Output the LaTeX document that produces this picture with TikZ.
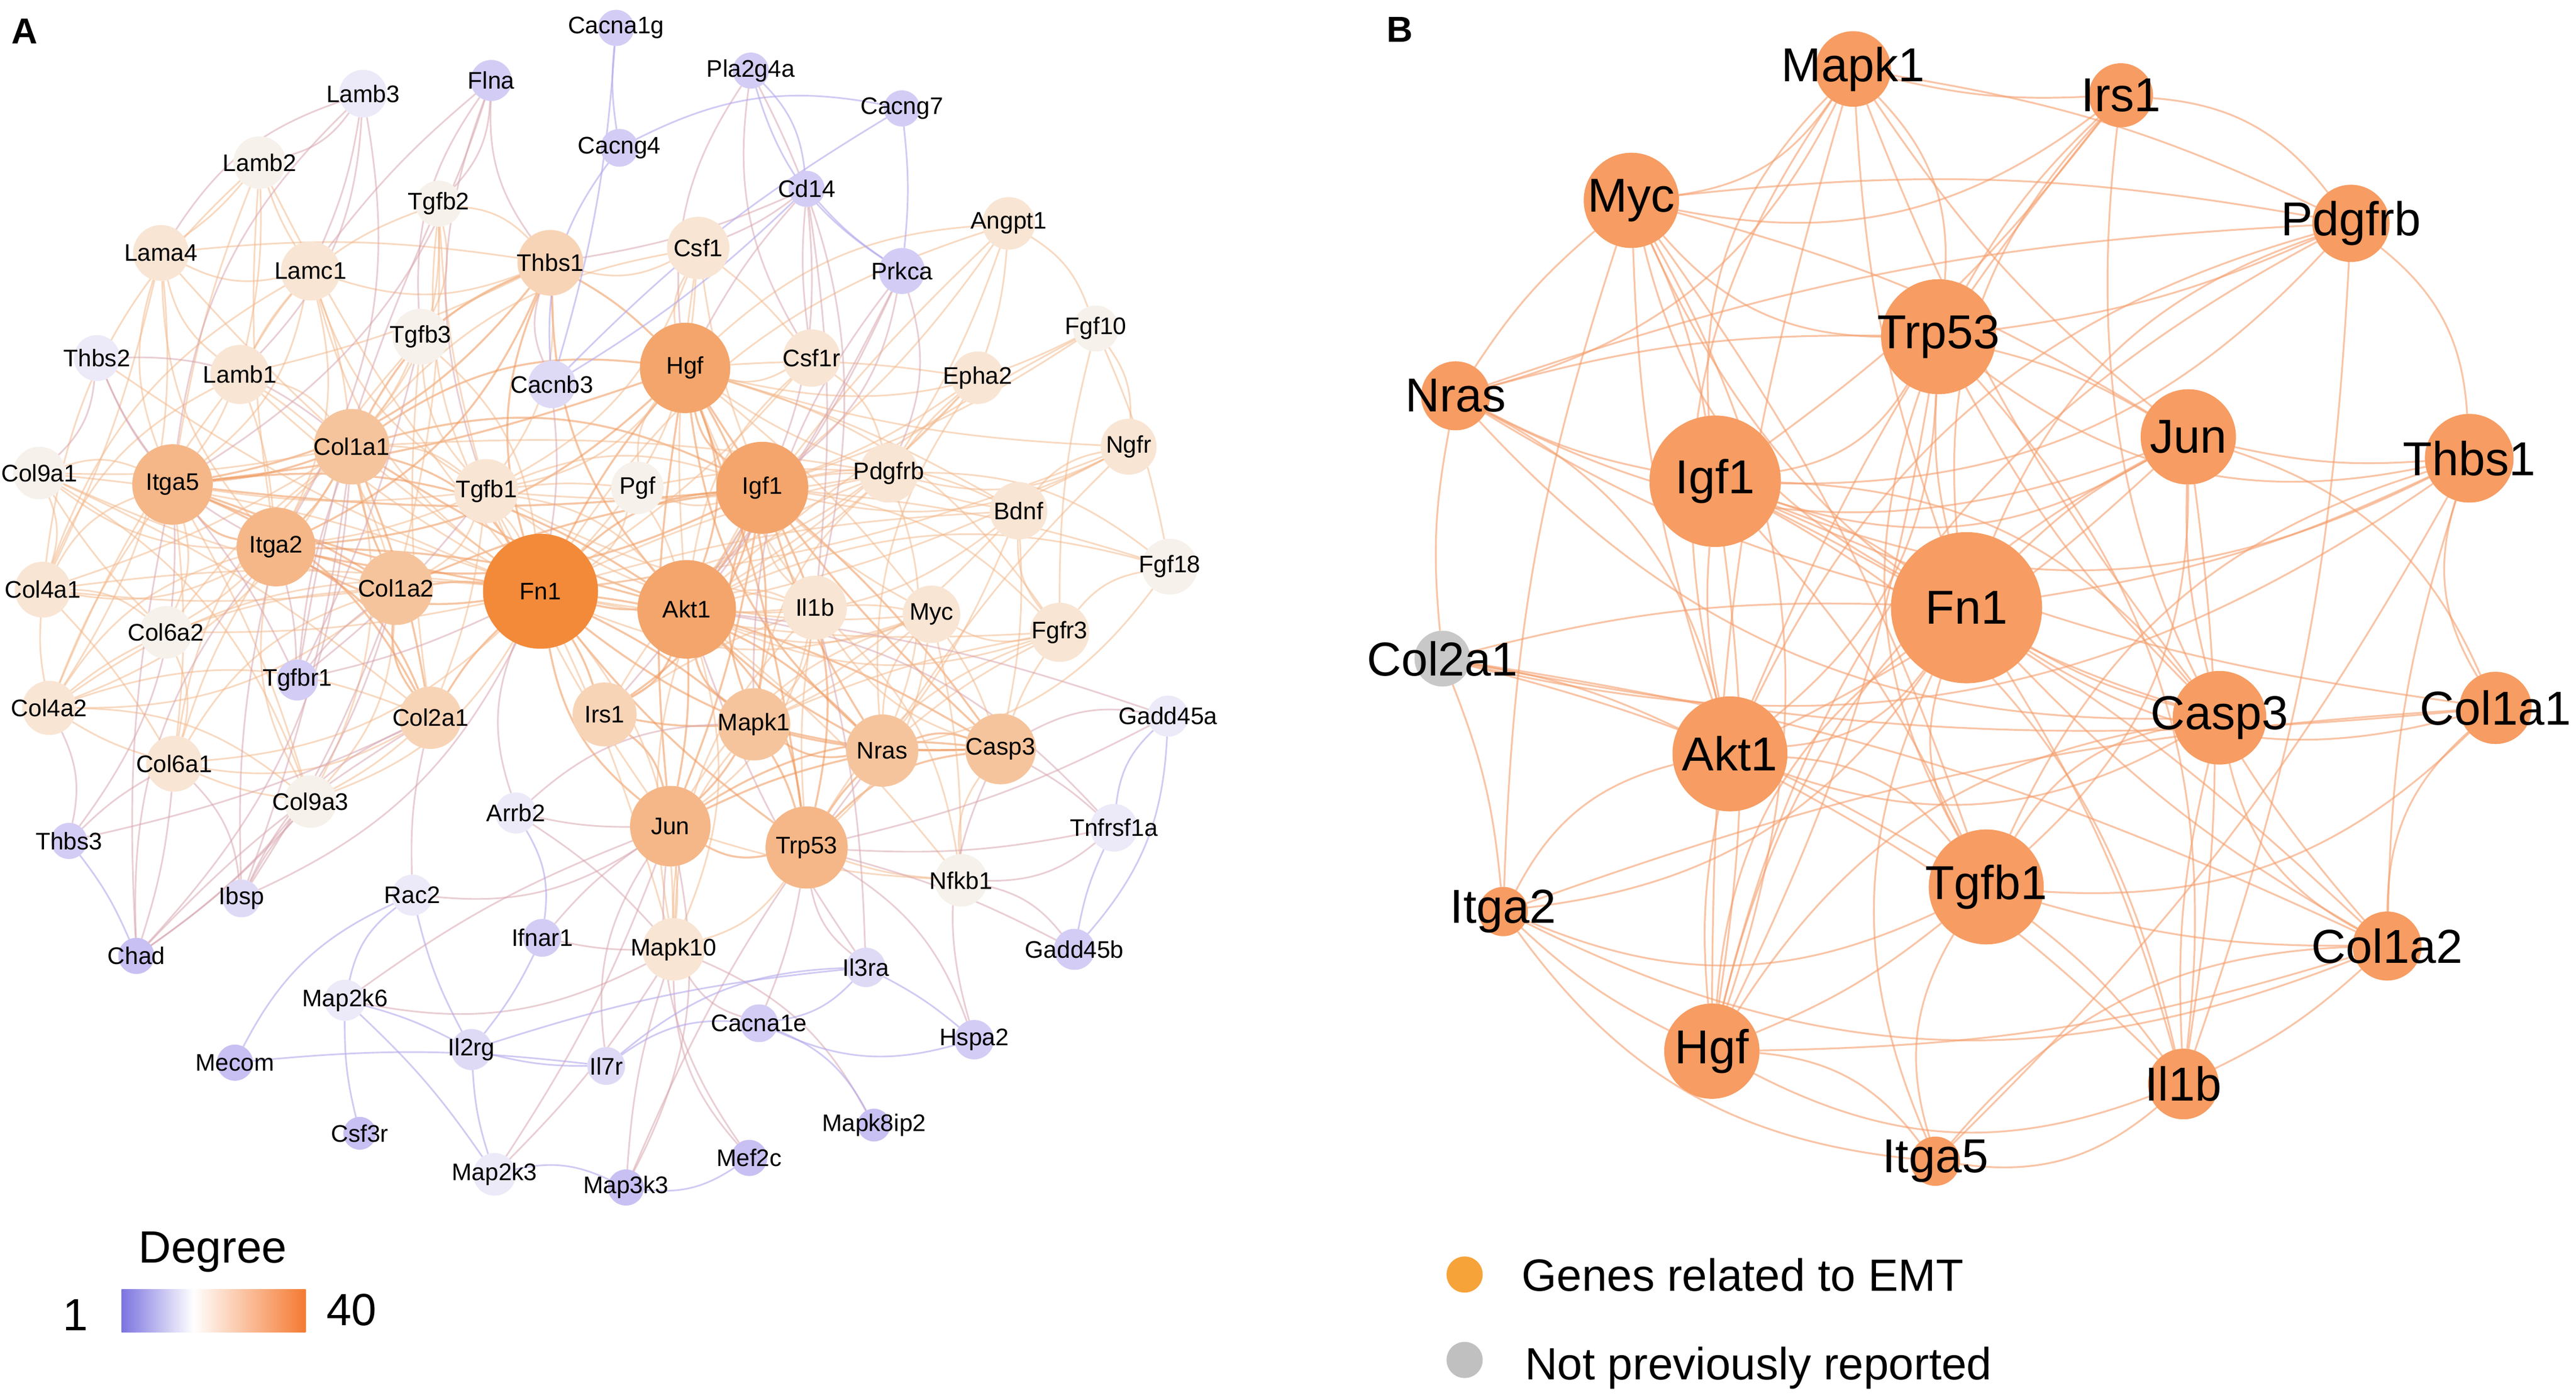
\documentclass[tikz,border=0pt]{standalone}
\usepackage{fontspec}
\setmainfont{Liberation Sans}
\pgfdeclarelayer{bgzero}
\pgfdeclarelayer{edges}
\pgfsetlayers{bgzero,edges,main}
\definecolor{cF}{RGB}{242,138,58}
\definecolor{cOa}{RGB}{243,165,108}
\definecolor{cOb}{RGB}{245,183,136}
\definecolor{cOc}{RGB}{246,196,156}
\definecolor{cOd}{RGB}{248,212,183}
\definecolor{cBg}{RGB}{249,229,212}
\definecolor{cWh}{RGB}{246,241,235}
\definecolor{cVa}{RGB}{236,234,248}
\definecolor{cVb}{RGB}{222,218,246}
\definecolor{cVc}{RGB}{211,205,245}
\definecolor{cVd}{RGB}{200,192,242}
\definecolor{edgeO}{RGB}{240,150,88}
\definecolor{edgeL}{RGB}{243,186,142}
\definecolor{edgeP}{RGB}{178,168,236}
\definecolor{edgeM}{RGB}{216,166,176}
\definecolor{edgeB}{RGB}{245,158,108}
\definecolor{nodeB}{RGB}{247,156,98}
\definecolor{grayB}{RGB}{200,200,200}
\definecolor{legOr}{RGB}{246,163,58}
\definecolor{legGr}{RGB}{192,192,192}
\definecolor{gradP}{RGB}{124,116,224}
\definecolor{gradO}{RGB}{244,122,50}
\tikzset{
  gn/.style={circle,inner sep=0pt,outer sep=0pt,draw=none},
  labA/.style={font=\fontsize{14.6}{16}\selectfont,inner sep=0pt,text=black},
  labB/.style={font=\fontsize{29}{32}\selectfont,inner sep=0pt,text=black},
  eO/.style={draw=edgeO,line width=1.2pt,opacity=.55},
  eL/.style={draw=edgeL,line width=1pt,opacity=.55},
  eM/.style={draw=edgeM,line width=1pt,opacity=.55},
  eP/.style={draw=edgeP,line width=1pt,opacity=.6},
  eB/.style={draw=edgeB,line width=1.1pt,opacity=.6},
  legtxt/.style={font=\fontsize{27.5}{30}\selectfont,inner sep=0pt},
  panel/.style={font=\bfseries\fontsize{22}{24}\selectfont,inner sep=0pt}
}
\newcommand\gA[6]{\node[gn,minimum size=#4pt*2,fill=#5,label={[labA]center:#6}] (#1) at (#2,#3) {};}
\newcommand\gB[5]{\node[gn,minimum size=#4pt*2,fill=#5,label={[labB]center:#1}] (b#1) at (#2,#3) {};}
\begin{document}
\begin{tikzpicture}[x=1pt,y=-1pt]
\begin{pgfonlayer}{bgzero}
\fill[white] (0,0) rectangle (1568,851);
\end{pgfonlayer}
\useasboundingbox (0,0) rectangle (1568,851);
% ---------------- Panel A nodes
\gA{Cacna1g}{375}{17}{11}{cVc}{Cacna1g}
\gA{Lamb3}{221}{57}{14.5}{cVa}{Lamb3}
\gA{Flna}{299}{49}{12.5}{cVc}{Flna}
\gA{Pla2g4a}{457}{43}{11}{cVc}{Pla2g4a}
\gA{Cacng7}{549}{66}{11}{cVc}{Cacng7}
\gA{Cacng4}{377}{90}{11.5}{cVc}{Cacng4}
\gA{Lamb2}{158}{99}{16}{cWh}{Lamb2}
\gA{Cd14}{491}{115}{11}{cVc}{Cd14}
\gA{Angpt1}{614}{136}{16}{cBg}{Angpt1}
\gA{Tgfb2}{267}{124}{14}{cWh}{Tgfb2}
\gA{Lama4}{98}{154}{17}{cBg}{Lama4}
\gA{Lamc1}{189}{165}{18}{cBg}{Lamc1}
\gA{Thbs1}{335}{160}{20}{cOd}{Thbs1}
\gA{Csf1}{425}{151}{19}{cBg}{Csf1}
\gA{Prkca}{549}{165}{14}{cVc}{Prkca}
\gA{Thbs2}{59}{218}{14}{cVa}{Thbs2}
\gA{Tgfb3}{256}{205}{17}{cWh}{Tgfb3}
\gA{Lamb1}{146}{228}{18}{cBg}{Lamb1}
\gA{Cacnb3}{336}{234}{14.5}{cVb}{Cacnb3}
\gA{Hgf}{417}{224}{27.5}{cOa}{Hgf}
\gA{Csf1r}{494}{218}{17.5}{cBg}{Csf1r}
\gA{Fgf10}{667}{200}{14}{cWh}{Fgf10}
\gA{Epha2}{595}{230}{16}{cBg}{Epha2}
\gA{Col9a1}{24}{288}{16}{cWh}{Col9a1}
\gA{Itga5}{105}{295}{24.5}{cOb}{Itga5}
\gA{Col1a1}{214}{272}{23}{cOc}{Col1a1}
\gA{Tgfb1}{296}{299}{19.5}{cBg}{Tgfb1}
\gA{Pgf}{388}{297}{16}{cWh}{Pgf}
\gA{Igf1}{464}{297}{28}{cOa}{Igf1}
\gA{Pdgfrb}{541}{288}{18}{cBg}{Pdgfrb}
\gA{Ngfr}{687}{272}{17}{cBg}{Ngfr}
\gA{Bdnf}{620}{311}{17.5}{cBg}{Bdnf}
\gA{Col4a1}{26}{359}{17}{cBg}{Col4a1}
\gA{Itga2}{168}{333}{24}{cOb}{Itga2}
\gA{Col1a2}{241}{358}{22.5}{cOc}{Col1a2}
\gA{Fn1}{329}{360}{35}{cF}{Fn1}
\gA{Akt1}{418}{371}{30}{cOa}{Akt1}
\gA{Il1b}{496}{370}{19.5}{cBg}{Il1b}
\gA{Myc}{567}{374}{17.5}{cBg}{Myc}
\gA{Fgf18}{712}{345}{17}{cWh}{Fgf18}
\gA{Col6a2}{101}{385}{16}{cWh}{Col6a2}
\gA{Tgfbr1}{181}{414}{12.5}{cVc}{Tgfbr1}
\gA{Fgfr3}{645}{385}{18}{cBg}{Fgfr3}
\gA{Col4a2}{30}{431}{16.5}{cBg}{Col4a2}
\gA{Col2a1}{262}{437}{19}{cOd}{Col2a1}
\gA{Irs1}{368}{435}{19.5}{cOd}{Irs1}
\gA{Mapk1}{459}{441}{22}{cOc}{Mapk1}
\gA{Nras}{537}{457}{22}{cOc}{Nras}
\gA{Casp3}{609}{456}{21.5}{cOc}{Casp3}
\gA{Gadd45a}{711}{436}{12.5}{cVa}{Gadd45a}
\gA{Col6a1}{106}{465}{17}{cBg}{Col6a1}
\gA{Col9a3}{189}{488}{16}{cWh}{Col9a3}
\gA{Thbs3}{42}{512}{11}{cVc}{Thbs3}
\gA{Arrb2}{314}{495}{12.5}{cVa}{Arrb2}
\gA{Jun}{408}{503}{24.5}{cOb}{Jun}
\gA{Trp53}{491}{516}{25}{cOb}{Trp53}
\gA{Tnfrsf1a}{678}{504}{14.5}{cVa}{Tnfrsf1a}
\gA{Nfkb1}{585}{536}{16}{cWh}{Nfkb1}
\gA{Ibsp}{147}{547}{11.5}{cVb}{Ibsp}
\gA{Rac2}{251}{545}{12.5}{cVa}{Rac2}
\gA{Chad}{83}{582}{11}{cVd}{Chad}
\gA{Ifnar1}{330}{571}{11.5}{cVc}{Ifnar1}
\gA{Mapk10}{410}{578}{19}{cBg}{Mapk10}
\gA{Il3ra}{527}{589}{12}{cVb}{Il3ra}
\gA{Gadd45b}{654}{578}{12.5}{cVc}{Gadd45b}
\gA{Map2k6}{210}{609}{12.5}{cVa}{Map2k6}
\gA{Mecom}{143}{647}{11}{cVd}{Mecom}
\gA{Il2rg}{287}{639}{12.5}{cVb}{Il2rg}
\gA{Il7r}{369}{649}{11.5}{cVb}{Il7r}
\gA{Cacna1e}{462}{623}{11.5}{cVc}{Cacna1e}
\gA{Hspa2}{593}{633}{12}{cVc}{Hspa2}
\gA{Csf3r}{219}{690}{10}{cVd}{Csf3r}
\gA{Mapk8ip2}{532}{685}{10}{cVd}{Mapk8ip2}
\gA{Map2k3}{301}{715}{13}{cVa}{Map2k3}
\gA{Mef2c}{456}{705}{11}{cVd}{Mef2c}
\gA{Map3k3}{381}{723}{11}{cVd}{Map3k3}
% ---------------- Panel B nodes
\gB{Mapk1}{1128}{42}{23}{nodeB}
\gB{Irs1}{1291}{58}{19.5}{nodeB}
\gB{Myc}{993}{122}{29}{nodeB}
\gB{Pdgfrb}{1431}{136}{23.5}{nodeB}
\gB{Trp53}{1180}{205}{35}{nodeB}
\gB{Nras}{886}{241}{21}{nodeB}
\gB{Jun}{1332}{266}{29}{nodeB}
\gB{Thbs1}{1503}{279}{27}{nodeB}
\gB{Igf1}{1044}{293}{40}{nodeB}
\gB{Fn1}{1197}{370}{46}{nodeB}
\gB{Col2a1}{878}{401}{17}{grayB}
\gB{Casp3}{1351}{437}{28.5}{nodeB}
\gB{Col1a1}{1519}{431}{22}{nodeB}
\gB{Akt1}{1053}{459}{35}{nodeB}
\gB{Tgfb1}{1209}{540}{35}{nodeB}
\gB{Itga2}{915}{555}{15}{nodeB}
\gB{Col1a2}{1453}{576}{21}{nodeB}
\gB{Hgf}{1042}{640}{29}{nodeB}
\gB{Il1b}{1329}{660}{21.5}{nodeB}
\gB{Itga5}{1178}{707}{15}{nodeB}
% ---------------- panel letters and legends
\node[panel] (lblA) at (15,19) {A};
\node[panel] (lblB) at (852,18) {B};
\node[legtxt,anchor=base] (degT) at (129.5,769) {Degree};
\node[legtxt,anchor=base] (deg1) at (46,810) {1};
\node[legtxt,anchor=base] (deg40) at (214,807) {40};
\shade[left color=gradP,right color=white] (74,785) rectangle (118,811);
\shade[left color=white,right color=gradO] (117.5,785) rectangle (186,811);
\node[gn,minimum size=22pt,fill=legOr] (legO) at (891.5,776) {};
\node[gn,minimum size=22pt,fill=legGr] (legG) at (891.5,828) {};
\node[legtxt,anchor=base west] (legOt) at (926,786) {Genes related to EMT};
\node[legtxt,anchor=base west] (legGt) at (928,840) {Not previously reported};
% ---------------- edges
\begin{pgfonlayer}{edges}
\foreach \a/\b [count=\i] in {Fn1/Akt1,Fn1/Hgf,Fn1/Igf1,Fn1/Jun,Fn1/Trp53,Fn1/Itga5,Fn1/Itga2,Fn1/Col1a1,Fn1/Col1a2,Fn1/Mapk1,Fn1/Nras,Fn1/Casp3,Fn1/Col2a1,Fn1/Irs1,Fn1/Thbs1,
Akt1/Hgf,Akt1/Igf1,Akt1/Jun,Akt1/Trp53,Akt1/Mapk1,Akt1/Nras,Akt1/Casp3,Akt1/Irs1,Akt1/Itga5,Akt1/Itga2,Akt1/Col1a1,Akt1/Thbs1,
Hgf/Igf1,Hgf/Jun,Hgf/Trp53,Hgf/Mapk1,Hgf/Nras,Hgf/Casp3,Hgf/Itga5,Hgf/Itga2,Hgf/Col1a1,Hgf/Thbs1,
Igf1/Jun,Igf1/Trp53,Igf1/Mapk1,Igf1/Nras,Igf1/Casp3,Igf1/Irs1,Igf1/Col1a1,Igf1/Col1a2,Igf1/Itga5,Igf1/Itga2,
Jun/Trp53,Jun/Mapk1,Jun/Nras,Jun/Casp3,Jun/Irs1,Trp53/Mapk1,Trp53/Nras,Trp53/Casp3,
Mapk1/Nras,Mapk1/Casp3,Mapk1/Irs1,Nras/Casp3,
Itga5/Itga2,Itga5/Col1a1,Itga5/Col1a2,Itga5/Col2a1,Itga5/Thbs1,
Itga2/Col1a1,Itga2/Col1a2,Itga2/Col2a1,Itga2/Thbs1,
Col1a1/Col1a2,Col1a1/Col2a1,Col1a1/Thbs1,Col1a2/Col2a1}{
  \pgfmathtruncatemacro\bb{mod(\i,4)*13-20}
  \draw[eO] (\a) to[bend left=\bb] (\b);
}
\foreach \a/\b [count=\i] in {Fn1/Tgfb1,Fn1/Lamb1,Fn1/Lamc1,Fn1/Csf1,Fn1/Csf1r,Fn1/Pdgfrb,Fn1/Mapk10,Fn1/Myc,Fn1/Fgfr3,Fn1/Bdnf,Fn1/Col6a1,Fn1/Col4a2,Fn1/Col4a1,Fn1/Lama4,Fn1/Angpt1,Fn1/Epha2,Fn1/Il1b,Fn1/Lamb2,Fn1/Tgfb2,Fn1/Tgfb3,Fn1/Col9a1,Fn1/Col6a2,Fn1/Col9a3,Fn1/Pgf,Fn1/Ngfr,Fn1/Thbs2,
Akt1/Il1b,Akt1/Myc,Akt1/Pdgfrb,Akt1/Csf1,Akt1/Csf1r,Akt1/Bdnf,Akt1/Ngfr,Akt1/Fgf10,Akt1/Fgf18,Akt1/Fgfr3,Akt1/Epha2,Akt1/Angpt1,Akt1/Mapk10,Akt1/Tgfb1,Akt1/Pgf,Akt1/Nfkb1,
Hgf/Csf1,Hgf/Csf1r,Hgf/Pdgfrb,Hgf/Epha2,Hgf/Angpt1,Hgf/Fgf10,Hgf/Ngfr,Hgf/Bdnf,Hgf/Tgfb1,Hgf/Pgf,Hgf/Il1b,Hgf/Myc,Hgf/Fgfr3,
Igf1/Il1b,Igf1/Myc,Igf1/Pdgfrb,Igf1/Bdnf,Igf1/Ngfr,Igf1/Fgf10,Igf1/Fgf18,Igf1/Fgfr3,Igf1/Tgfb1,Igf1/Angpt1,Igf1/Csf1,Igf1/Pgf,Igf1/Mapk10,Igf1/Epha2,
Jun/Mapk10,Jun/Myc,Jun/Il1b,Jun/Nfkb1,Jun/Tgfb1,
Trp53/Mapk10,Trp53/Myc,Trp53/Nfkb1,Trp53/Il1b,Trp53/Fgfr3,
Mapk1/Mapk10,Mapk1/Myc,Mapk1/Fgfr3,Mapk1/Pdgfrb,Mapk1/Il1b,Mapk1/Bdnf,
Nras/Fgfr3,Nras/Myc,Nras/Pdgfrb,Nras/Bdnf,Nras/Ngfr,Nras/Epha2,Nras/Fgf18,
Casp3/Myc,Casp3/Fgfr3,Casp3/Il1b,Casp3/Nfkb1,Casp3/Bdnf,Irs1/Il1b,Irs1/Pdgfrb,
Itga5/Col4a1,Itga5/Col4a2,Itga5/Col6a1,Itga5/Col6a2,Itga5/Col9a1,Itga5/Lamb1,Itga5/Lamb2,Itga5/Lama4,Itga5/Lamc1,Itga5/Tgfb1,Itga5/Col9a3,
Itga2/Col4a1,Itga2/Col4a2,Itga2/Col6a1,Itga2/Col6a2,Itga2/Col9a1,Itga2/Col9a3,Itga2/Lamb1,Itga2/Lamb2,Itga2/Lama4,Itga2/Lamc1,Itga2/Tgfb1,Itga2/Tgfb3,
Col1a1/Tgfb1,Col1a1/Tgfb2,Col1a1/Tgfb3,Col1a1/Col4a1,Col1a1/Col4a2,Col1a1/Col6a1,Col1a1/Col6a2,Col1a1/Col9a1,Col1a1/Col9a3,Col1a1/Lamb1,Col1a1/Lamc1,Col1a1/Pdgfrb,Col1a1/Csf1,
Col1a2/Tgfb1,Col1a2/Tgfb2,Col1a2/Col4a1,Col1a2/Col4a2,Col1a2/Col6a1,Col1a2/Col6a2,Col1a2/Col9a1,Col1a2/Col9a3,Col1a2/Lamb1,
Col2a1/Col9a1,Col2a1/Col9a3,Col2a1/Col6a1,Col2a1/Col4a2,Col2a1/Tgfb1,Col2a1/Tgfb3,
Thbs1/Tgfb1,Thbs1/Tgfb2,Thbs1/Tgfb3,Thbs1/Lamb1,Thbs1/Lamc1,Thbs1/Csf1,Thbs1/Lama4,
Tgfb1/Tgfb2,Tgfb1/Tgfb3,Tgfb1/Csf1,Tgfb1/Pdgfrb,Tgfb1/Pgf,Tgfb1/Lamc1,Tgfb1/Myc,Tgfb1/Il1b,Tgfb1/Mapk10,
Tgfb2/Tgfb3,Tgfb2/Lamb1,Lamb1/Lamb2,Lamb1/Lamc1,Lamb1/Lama4,Lamb1/Col4a1,Lamb1/Col4a2,
Lamc1/Lamb2,Lamc1/Lama4,Lamc1/Col4a1,Lama4/Lamb2,Lama4/Col4a1,Lama4/Col4a2,Lamb2/Col4a1,
Col4a1/Col4a2,Col4a1/Col6a1,Col4a1/Col6a2,Col4a1/Col9a1,Col4a2/Col6a1,Col4a2/Col6a2,Col4a2/Col9a3,
Col6a1/Col6a2,Col6a1/Col9a3,Col6a2/Col9a1,Col9a1/Col9a3,
Pdgfrb/Csf1r,Pdgfrb/Bdnf,Pdgfrb/Epha2,Pdgfrb/Fgf18,Pdgfrb/Ngfr,Pdgfrb/Pgf,
Csf1/Csf1r,Bdnf/Ngfr,Bdnf/Fgfr3,Fgf10/Fgfr3,Fgf10/Fgf18,Fgf10/Ngfr,Fgf18/Fgfr3,Epha2/Angpt1,Angpt1/Pdgfrb,Angpt1/Fgf10,
Myc/Fgfr3,Myc/Il1b,Myc/Nfkb1,Il1b/Nfkb1,Il1b/Mapk10}{
  \pgfmathtruncatemacro\bb{mod(\i,4)*13-20}
  \draw[eL] (\a) to[bend left=\bb] (\b);
}
\foreach \a/\b [count=\i] in {Akt1/Prkca,Akt1/Gadd45a,Akt1/Tnfrsf1a,Akt1/Cd14,Akt1/Il3ra,
Hgf/Cd14,Hgf/Pla2g4a,Igf1/Prkca,
Jun/Map2k6,Jun/Map2k3,Jun/Map3k3,Jun/Mef2c,Jun/Ifnar1,Jun/Arrb2,Jun/Rac2,Jun/Il7r,
Trp53/Gadd45a,Trp53/Gadd45b,Trp53/Hspa2,Trp53/Il3ra,Trp53/Tnfrsf1a,Trp53/Cacna1e,
Mapk1/Prkca,Mapk1/Arrb2,Nras/Map3k3,Casp3/Tnfrsf1a,Casp3/Gadd45a,Casp3/Hspa2,Irs1/Prkca,
Itga5/Thbs2,Itga5/Lamb3,Itga5/Flna,Itga5/Chad,Itga5/Tgfbr1,Itga5/Thbs3,
Itga2/Chad,Itga2/Ibsp,Itga2/Tgfbr1,Itga2/Thbs2,Itga2/Lamb3,
Col1a1/Tgfbr1,Col1a1/Ibsp,Col1a1/Chad,Col1a1/Thbs2,Col1a2/Tgfbr1,Col1a2/Ibsp,Col1a2/Chad,
Col2a1/Ibsp,Col2a1/Chad,Col2a1/Thbs3,Thbs1/Flna,Thbs1/Cacnb3,Thbs1/Cd14,
Tgfb1/Tgfbr1,Tgfb1/Flna,Tgfb2/Flna,Tgfb2/Tgfbr1,Tgfb3/Tgfbr1,Tgfb3/Flna,
Lamb1/Lamb3,Lamc1/Lamb3,Lamc1/Flna,Lama4/Lamb3,Lamb2/Lamb3,
Col6a1/Thbs3,Col6a1/Chad,Col6a1/Ibsp,Col9a1/Thbs2,Col9a3/Ibsp,Col9a3/Chad,Col4a2/Thbs3,
Pdgfrb/Prkca,Csf1/Cd14,Csf1r/Cd14,Csf1r/Pla2g4a,Il1b/Pla2g4a,Il1b/Cd14,Il1b/Il3ra,
Mapk10/Mapk8ip2,Mapk10/Mef2c,Mapk10/Map3k3,Mapk10/Map2k3,Mapk10/Map2k6,Mapk10/Cacna1e,Mapk10/Arrb2,Mapk10/Ifnar1,
Nfkb1/Gadd45b,Nfkb1/Tnfrsf1a,Fn1/Cacnb3,Fn1/Tgfbr1,Fn1/Ibsp,Fn1/Arrb2,Col2a1/Rac2}{
  \pgfmathtruncatemacro\bb{mod(\i,4)*13-20}
  \draw[eM] (\a) to[bend left=\bb] (\b);
}
\foreach \a/\b [count=\i] in {Cacna1g/Cacng4,Cacna1g/Cacnb3,Cacng4/Cacng7,Cacng4/Cacnb3,Cacng7/Cacnb3,Cacng7/Prkca,Pla2g4a/Cd14,Pla2g4a/Prkca,Cd14/Prkca,Cd14/Cacnb3,
Gadd45a/Gadd45b,Gadd45a/Tnfrsf1a,Tnfrsf1a/Gadd45b,Il3ra/Hspa2,Il3ra/Cacna1e,Cacna1e/Hspa2,Il2rg/Il7r,Il2rg/Il3ra,Il7r/Il3ra,Cacna1e/Il7r,
Map2k6/Csf3r,Mecom/Il7r,Mecom/Rac2,Rac2/Map2k6,Rac2/Il2rg,Map2k6/Map2k3,Map2k3/Map3k3,Map3k3/Mef2c,Il2rg/Map2k3,Ifnar1/Il2rg,Arrb2/Ifnar1,Mapk8ip2/Cacna1e,Chad/Thbs3,Map2k6/Il2rg}{
  \pgfmathtruncatemacro\bb{mod(\i,4)*13-20}
  \draw[eP] (\a) to[bend left=\bb] (\b);
}
% ---------------- panel B edges
\foreach \a/\b [count=\i] in {Fn1/Igf1,Fn1/Trp53,Fn1/Akt1,Fn1/Tgfb1,Fn1/Casp3,Fn1/Jun,Fn1/Myc,Fn1/Hgf,Fn1/Thbs1,Fn1/Mapk1,Fn1/Pdgfrb,Fn1/Col1a1,Fn1/Col1a2,Fn1/Il1b,Fn1/Itga2,Fn1/Itga5,Fn1/Col2a1,Fn1/Nras,Fn1/Irs1,
Igf1/Trp53,Igf1/Akt1,Igf1/Tgfb1,Igf1/Casp3,Igf1/Jun,Igf1/Myc,Igf1/Hgf,Igf1/Mapk1,Igf1/Pdgfrb,Igf1/Irs1,Igf1/Nras,Igf1/Il1b,Igf1/Thbs1,Igf1/Col1a1,Igf1/Col1a2,
Trp53/Akt1,Trp53/Tgfb1,Trp53/Casp3,Trp53/Jun,Trp53/Myc,Trp53/Mapk1,Trp53/Nras,Trp53/Hgf,Trp53/Il1b,Trp53/Thbs1,Trp53/Pdgfrb,Trp53/Irs1,
Akt1/Tgfb1,Akt1/Casp3,Akt1/Jun,Akt1/Myc,Akt1/Mapk1,Akt1/Nras,Akt1/Hgf,Akt1/Irs1,Akt1/Pdgfrb,Akt1/Itga2,Akt1/Col2a1,Akt1/Il1b,
Tgfb1/Casp3,Tgfb1/Jun,Tgfb1/Myc,Tgfb1/Hgf,Tgfb1/Thbs1,Tgfb1/Col1a1,Tgfb1/Col1a2,Tgfb1/Il1b,Tgfb1/Itga2,Tgfb1/Itga5,Tgfb1/Col2a1,
Casp3/Jun,Casp3/Myc,Casp3/Hgf,Casp3/Il1b,Casp3/Mapk1,Casp3/Nras,Casp3/Col1a2,
Jun/Myc,Jun/Mapk1,Jun/Nras,Jun/Hgf,Jun/Thbs1,Jun/Il1b,Jun/Col1a1,
Myc/Mapk1,Myc/Nras,Myc/Pdgfrb,Myc/Hgf,Myc/Irs1,Myc/Itga2,
Hgf/Itga2,Hgf/Itga5,Hgf/Il1b,Hgf/Col1a2,Hgf/Mapk1,Hgf/Pdgfrb,
Thbs1/Col1a1,Thbs1/Col1a2,Thbs1/Itga5,Thbs1/Col2a1,Thbs1/Pdgfrb,
Mapk1/Irs1,Mapk1/Pdgfrb,Mapk1/Nras,Col1a1/Col1a2,Col1a1/Itga2,Col1a1/Col2a1,
Col1a2/Itga2,Col1a2/Itga5,Col1a2/Col2a1,Col1a2/Il1b,Itga5/Itga2,Itga5/Il1b,
Nras/Col2a1,Nras/Pdgfrb,Irs1/Pdgfrb,Irs1/Col1a2,Il1b/Pdgfrb,Col2a1/Itga2}{
  \pgfmathtruncatemacro\bb{mod(\i,4)*16-24}
  \draw[eB] (b\a) to[bend left=\bb] (b\b);
}
\end{pgfonlayer}
\end{tikzpicture}
\end{document}
